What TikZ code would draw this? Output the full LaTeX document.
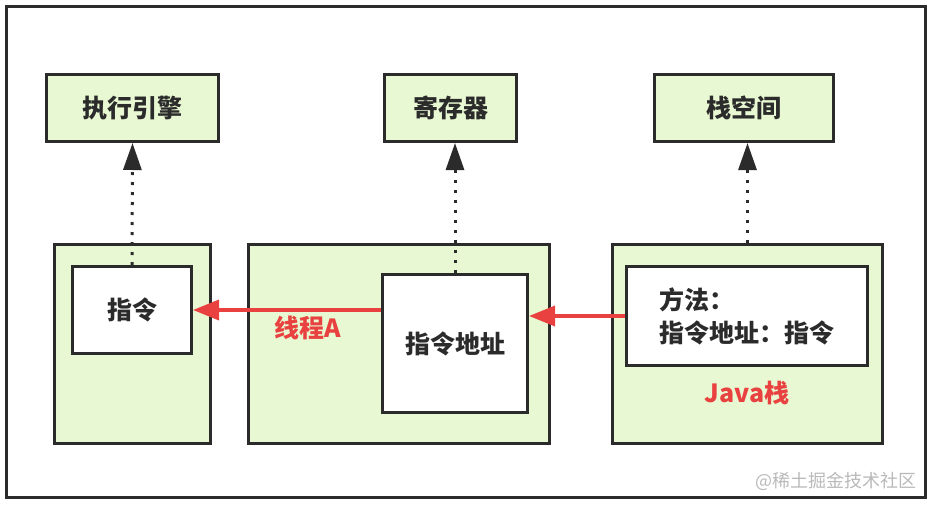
\documentclass[tikz,border=0pt]{standalone}
\usepackage{fontspec}
\setmainfont{Noto Sans CJK SC}
\usetikzlibrary{positioning,arrows.meta}

\definecolor{leaf}{HTML}{E8F8D2}
\definecolor{edge}{HTML}{2B2B2B}
\definecolor{alarm}{HTML}{E8413F}

\begin{document}
\begin{tikzpicture}[x=1pt,y=-1pt,
    font=\fontsize{25}{33}\selectfont\bfseries,
    box/.style={rectangle,draw=edge,line width=3pt,fill=leaf,text=edge,inner sep=0pt},
    cell/.style={rectangle,draw=edge,line width=3pt,fill=white,text=edge,inner sep=0pt},
    link/.style={-{Triangle[length=27pt,width=18pt]},draw=edge,line width=3pt,dash pattern=on 3pt off 7pt},
    flow/.style={-{Triangle[length=26pt,width=20pt]},draw=alarm,line width=3.5pt},
    tag/.style={text=alarm,font=\fontsize{25}{30}\selectfont\bfseries}]
      \useasboundingbox (0,0) rectangle (932,506);
      \draw[edge,line width=3pt] (6,6) rectangle (925,497);

      % upper row
      \node[box,minimum width=172pt,minimum height=67pt] (engine) at (132.5,108) {执行引擎};
      \node[box,minimum width=132pt,minimum height=67pt] (reg) at (450.5,108) {寄存器};
      \node[box,minimum width=179pt,minimum height=67pt] (space) at (744,108) {栈空间};

      % lower row
      \node[box,minimum width=156pt,minimum height=199pt] (lcol) at (132.5,344) {};
      \node[box,minimum width=301pt,minimum height=199pt] (mcol) at (399,344) {};
      \node[box,minimum width=270pt,minimum height=199pt] (rcol) at (747.5,344) {};

      \node[cell,minimum width=119pt,minimum height=87pt] (instr) at (132,310) {指令};
      \node[cell,minimum width=145pt,minimum height=138pt] (addr) at (455,343.5) {指令地址};
      \node[cell,minimum width=241pt,minimum height=99pt,align=left] (frame) at (747,316)
        {方法：\\指令地址：指令};

      \node[tag] (thread) at (308,328) {线程A};
      \node[tag,below=11pt of frame] (jstack) {Java栈};
      \node[text=gray!55,font=\fontsize{18}{20}\selectfont] (mark) at (836,481) {@稀土掘金技术社区};

      \draw[link] (instr.north) -- (engine.south);
      \draw[link] (addr.north) -- (addr.north |- reg.south);
      \draw[link] (rcol.north) -- (rcol.north |- space.south);

      \draw[flow] (addr.west |- instr.east) -- (instr.east);
      \draw[flow] (frame.west |- 0,316) -- (addr.east |- 0,316);
\end{tikzpicture}
\end{document}
